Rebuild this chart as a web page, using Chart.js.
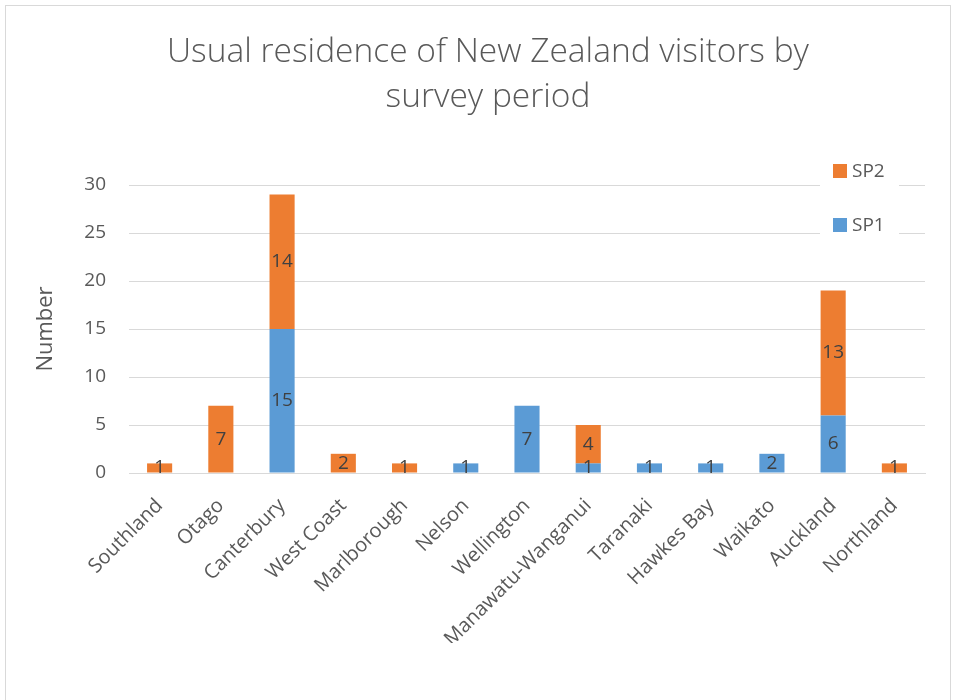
<!DOCTYPE html>
<html>
<head>
<meta charset="utf-8">
<script src="https://cdn.jsdelivr.net/npm/chart.js@4/dist/chart.umd.min.js"></script>
<style>
  html, body { margin: 0; padding: 0; background: #ffffff; }
  #wrap { width: 956px; height: 700px; }
</style>
</head>
<body>
<div id="wrap"><canvas id="c" width="956" height="700"></canvas></div>
<script>
// Regions of usual residence
const regions = ['Southland', 'Otago', 'Canterbury', 'West Coast', 'Marlborough', 'Nelson',
  'Wellington', 'Manawatu-Wanganui', 'Taranaki', 'Hawkes Bay', 'Waikato', 'Auckland', 'Northland'];

// Visitors per survey period
const sp1 = [0, 0, 15, 0, 0, 1, 7, 1, 1, 1, 2, 6, 0];
const sp2 = [1, 7, 14, 2, 1, 0, 0, 4, 0, 0, 0, 13, 1];

const seriesNames = ['SP1', 'SP2'];
const seriesColors = ['#5B9BD5', '#ED7D31'];

const yTicks = [0, 5, 10, 15, 20, 25, 30];

const titleLines = ['Usual residence of New Zealand visitors by', 'survey period'];
const yTitle = 'Number';

const FONT = '"Open Sans", "Liberation Sans", sans-serif';
const TEXT = '#595959';
const GRID = '#d9d9d9';

// Outer frame of the chart
const framePlugin = {
  id: 'frame',
  beforeDraw(chart) {
    const ctx = chart.ctx;
    ctx.save();
    ctx.fillStyle = '#ffffff';
    ctx.fillRect(0, 0, chart.width, chart.height);
    ctx.strokeStyle = GRID;
    ctx.lineWidth = 1;
    ctx.strokeRect(5.5, 5.5, chart.width - 11, chart.height + 10);
    ctx.restore();
  }
};

// Two-line heading above the plot
const headingPlugin = {
  id: 'heading',
  afterDraw(chart) {
    const ctx = chart.ctx;
    ctx.save();
    ctx.font = '300 33.5px ' + FONT;
    ctx.fillStyle = TEXT;
    ctx.textAlign = 'center';
    ctx.textBaseline = 'middle';
    const cx = 488;
    titleLines.forEach((line, i) => ctx.fillText(line, cx, 52 + i * 45));
    ctx.restore();
  }
};

// Value labels centred in each stacked segment
const valueLabels = {
  id: 'valueLabels',
  afterDatasetsDraw(chart) {
    const ctx = chart.ctx;
    ctx.save();
    ctx.font = '19px ' + FONT;
    ctx.fillStyle = '#404040';
    ctx.textAlign = 'center';
    ctx.textBaseline = 'middle';
    chart.data.datasets.forEach((ds, di) => {
      const meta = chart.getDatasetMeta(di);
      meta.data.forEach((bar, i) => {
        const v = ds.data[i];
        if (!v) return;
        const p = bar.getProps(['x', 'y', 'base'], true);
        ctx.fillText(String(v), p.x, (p.y + p.base) / 2);
      });
    });
    ctx.restore();
  }
};

// Legend in the top-right corner, last series listed first
const cornerLegend = {
  id: 'cornerLegend',
  afterDraw(chart) {
    const ctx = chart.ctx;
    const area = chart.chartArea;
    const x0 = area.right - 105;
    const y0 = area.top - 30;
    ctx.save();
    ctx.fillStyle = '#ffffff';
    ctx.fillRect(x0, y0, 79, 86);
    ctx.font = '19px ' + FONT;
    ctx.textBaseline = 'middle';
    ctx.textAlign = 'left';
    const items = chart.data.datasets.map((d, i) => i).reverse();
    items.forEach((di, k) => {
      const ds = chart.data.datasets[di];
      const cy = area.top - 14 + k * 54;
      ctx.fillStyle = ds.backgroundColor;
      ctx.fillRect(area.right - 92, cy - 7, 14, 14);
      ctx.fillStyle = TEXT;
      ctx.fillText(ds.label, area.right - 73, cy + 1);
    });
    ctx.restore();
  }
};

new Chart(document.getElementById('c'), {
  type: 'bar',
  data: {
    labels: regions,
    datasets: [
      { label: seriesNames[0], data: sp1, backgroundColor: seriesColors[0], borderWidth: 0 },
      { label: seriesNames[1], data: sp2, backgroundColor: seriesColors[1], borderWidth: 0 }
    ]
  },
  options: {
    responsive: false,
    animation: false,
    devicePixelRatio: 1,
    layout: { padding: { left: 31, right: 31, top: 185, bottom: 57 } },
    datasets: { bar: { barPercentage: 0.41, categoryPercentage: 1.0 } },
    plugins: {
      legend: { display: false },
      tooltip: { enabled: false },
      title: { display: false }
    },
    scales: {
      x: {
        stacked: true,
        grid: { display: false, drawTicks: false },
        border: { display: true, color: GRID, width: 1 },
        ticks: {
          color: TEXT,
          font: { family: FONT, size: 20 },
          minRotation: 45,
          maxRotation: 45,
          autoSkip: false,
          padding: 21
        },
        afterFit(scale) { scale.height = 170; }
      },
      y: {
        stacked: true,
        min: 0,
        max: 30,
        afterBuildTicks(scale) { scale.ticks = yTicks.map(v => ({ value: v })); },
        grid: { color: GRID, lineWidth: 1, drawTicks: false },
        border: { display: false },
        ticks: {
          color: TEXT,
          font: { family: FONT, size: 19 },
          padding: 23
        },
        title: {
          display: true,
          text: yTitle,
          color: TEXT,
          font: { family: FONT, size: 22 },
          padding: { top: 2, bottom: 4 }
        },
        afterFit(scale) { scale.width = 98; }
      }
    }
  },
  plugins: [framePlugin, headingPlugin, valueLabels, cornerLegend]
});
</script>
</body>
</html>
